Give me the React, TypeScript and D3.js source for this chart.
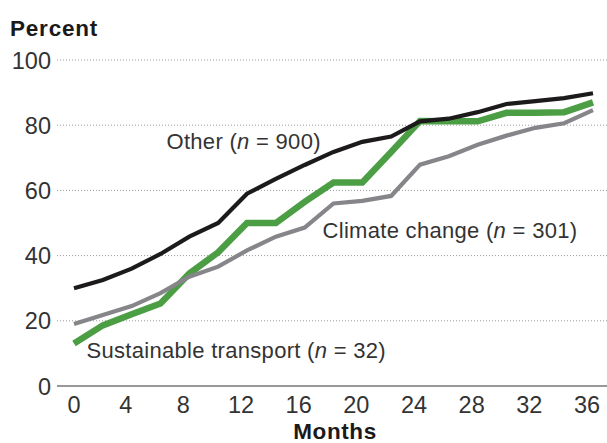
import React from "react";
import * as d3 from "d3";

const months = [0, 2, 4, 6, 8, 10, 12, 14, 16, 18, 20, 22, 24, 26, 28, 30, 32, 34, 36];
const otherValues = [30, 32.5, 36, 40.5, 45.8, 50, 59, 63.5, 67.8, 71.8, 74.9, 76.5, 81.2, 82, 84, 86.5, 87.4, 88.3, 89.8];
const climateValues = [19, 21.8, 24.5, 28.5, 33.5, 36.6, 41.6, 45.8, 48.6, 56, 56.8, 58.3, 67.9, 70.5, 74, 76.8, 79.2, 80.6, 84.6];
const transportValues = [13, 18.6, 22, 25.3, 34.5, 41, 50, 50, 56.5, 62.4, 62.4, 71.8, 81.3, 81.2, 81.2, 83.8, 83.8, 84, 87];
const yTicks = [0, 20, 40, 60, 80, 100];
const xTicks = [0, 4, 8, 12, 16, 20, 24, 28, 32, 36];

const W = 607;
const H = 443;
const FONT = "'Liberation Sans', Arial, Helvetica, sans-serif";

export default function App() {
  const x = d3.scaleLinear().domain([0, 36]).range([74, 593]);
  const y = d3.scaleLinear().domain([0, 100]).range([386, 60]);
  const line = (vals: number[]) =>
    d3.line<number>().x((_, i) => x(months[i])).y((d) => y(d))(vals) || "";

  return (
    <svg width={W} height={H} style={{ position: "absolute", left: 0, top: 0, background: "#fff" }} fontFamily={FONT}>
      {yTicks.filter((t) => t > 0).map((t) => (
        <line key={"g" + t} x1={57} x2={W} y1={y(t)} y2={y(t)} stroke="#9a9a9a" strokeWidth={1} strokeDasharray="1,2" />
      ))}
      <line x1={57} x2={W} y1={y(0)} y2={y(0)} stroke="#333" strokeWidth={1.2} />
      {yTicks.map((t) => (
        <text key={"y" + t} x={51} y={y(t) + 8.5} textAnchor="end" fontSize={23.5} fill="#333">{t}</text>
      ))}
      {xTicks.map((t) => (
        <text key={"x" + t} x={t === 0 ? x(t) : x(t) - 6} y={412.5} textAnchor="middle" fontSize={23.5} fill="#333">{t}</text>
      ))}
      <text x={10} y={35.5} fontSize={22.5} fontWeight="bold" letterSpacing={0.8} fill="#1a1a1a">Percent</text>
      <text x={335} y={438.5} textAnchor="middle" fontSize={22.5} fontWeight="bold" letterSpacing={0.6} fill="#1a1a1a">Months</text>

      <path d={line(transportValues)} fill="none" stroke="#4c9e45" strokeWidth={6.5} strokeLinejoin="miter" />
      <path d={line(climateValues)} fill="none" stroke="#86868a" strokeWidth={4.2} strokeLinejoin="miter" />
      <path d={line(otherValues)} fill="none" stroke="#1c1a1b" strokeWidth={4.2} strokeLinejoin="miter" />

      <text x={166.5} y={148.5} fontSize={22} letterSpacing={0.3} fill="#333">
        Other (<tspan fontStyle="italic">n</tspan> = 900)
      </text>
      <text x={322.5} y={238} fontSize={22} letterSpacing={0.3} fill="#333">
        Climate change (<tspan fontStyle="italic">n</tspan> = 301)
      </text>
      <text x={86.5} y={357.5} fontSize={22} letterSpacing={0.3} fill="#333">
        Sustainable transport (<tspan fontStyle="italic">n</tspan> = 32)
      </text>
    </svg>
  );
}
